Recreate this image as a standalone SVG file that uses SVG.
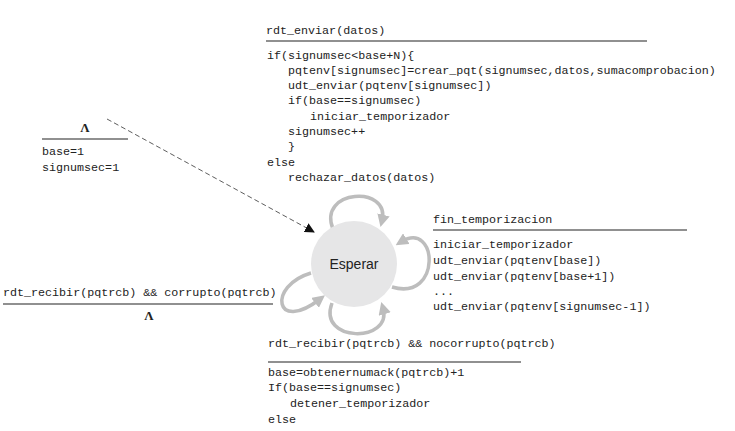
<svg xmlns="http://www.w3.org/2000/svg" width="735" height="431" viewBox="0 0 735 431">
<defs>
<style>
.t{font-family:"Liberation Mono","DejaVu Sans Mono",monospace;font-size:11.7px;fill:#222}
.lam{font-family:"Liberation Serif","DejaVu Serif",serif;font-size:13px;font-weight:bold;fill:#222;text-anchor:middle}
.rule{stroke:#222;stroke-width:1.2}
.loop{fill:none;stroke:#bdbdbd;stroke-width:3.5}
</style>
<marker id="ga" viewBox="0 0 10 10" refX="5" refY="5" markerWidth="3.6" markerHeight="3.6" orient="auto" markerUnits="strokeWidth">
<path d="M0,0 L10,5 L0,10 z" fill="#bdbdbd"/>
</marker>
<marker id="ba" viewBox="0 0 10 10" refX="9" refY="5" markerWidth="10" markerHeight="10" orient="auto" markerUnits="userSpaceOnUse">
<path d="M0,0 L10,5 L0,10 z" fill="#111"/>
</marker>
</defs>
<rect width="735" height="431" fill="#fff"/>

<g id="connectors">
<line x1="107" y1="119" x2="314" y2="232" stroke="#333" stroke-width="0.8" stroke-dasharray="5,3" marker-end="url(#ba)"/>
<path class="loop" d="M333,229 C317,189 391,185 382,221" marker-end="url(#ga)"/>
<path class="loop" d="M392,287 C442,302 438,219 401,242" marker-end="url(#ga)"/>
<path class="loop" d="M311,273 C267,286 275,334 320,299" marker-end="url(#ga)"/>
<path class="loop" d="M332,303 C317,343 393,343 383,308" marker-end="url(#ga)"/>
</g>

<g id="esperar">
<circle cx="354" cy="264" r="43" fill="#e6e6e7"/>
<text x="354" y="269" font-family="Liberation Sans, Arial, sans-serif" font-size="14" fill="#222" text-anchor="middle">Esperar</text>
</g>

<g id="init-label">
<text class="lam" x="85" y="132">Λ</text>
<line class="rule" x1="42" y1="139" x2="128" y2="139"/>
<text class="t" x="42" y="155">base=1</text>
<text class="t" x="42" y="171">signumsec=1</text>
</g>

<g id="enviar-label">
<text class="t" x="266" y="34">rdt_enviar(datos)</text>
<line class="rule" x1="266" y1="41" x2="647" y2="41"/>
<text class="t" x="267" y="59">if(signumsec&lt;base+N){</text>
<text class="t" x="288" y="74">pqtenv[signumsec]=crear_pqt(signumsec,datos,sumacomprobacion)</text>
<text class="t" x="288" y="89">udt_enviar(pqtenv[signumsec])</text>
<text class="t" x="288" y="104">if(base==signumsec)</text>
<text class="t" x="310" y="120">iniciar_temporizador</text>
<text class="t" x="288" y="135">signumsec++</text>
<text class="t" x="288" y="150">}</text>
<text class="t" x="267" y="166">else</text>
<text class="t" x="288" y="181">rechazar_datos(datos)</text>
</g>

<g id="timeout-label">
<text class="t" x="433" y="223">fin_temporizacion</text>
<line class="rule" x1="433" y1="230" x2="687" y2="230"/>
<text class="t" x="433" y="248">iniciar_temporizador</text>
<text class="t" x="433" y="264">udt_enviar(pqtenv[base])</text>
<text class="t" x="433" y="280">udt_enviar(pqtenv[base+1])</text>
<text class="t" x="433" y="295">...</text>
<text class="t" x="433" y="310">udt_enviar(pqtenv[signumsec-1])</text>
</g>

<g id="corrupt-label">
<text class="t" x="3" y="296">rdt_recibir(pqtrcb) &amp;&amp; corrupto(pqtrcb)</text>
<line class="rule" x1="3" y1="304" x2="273" y2="304"/>
<text class="lam" x="149" y="320">Λ</text>
</g>

<g id="ack-label">
<text class="t" x="268" y="347">rdt_recibir(pqtrcb) &amp;&amp; nocorrupto(pqtrcb)</text>
<line class="rule" x1="268" y1="362" x2="521" y2="362"/>
<text class="t" x="268" y="376">base=obtenernumack(pqtrcb)+1</text>
<text class="t" x="268" y="391">If(base==signumsec)</text>
<text class="t" x="290" y="407">detener_temporizador</text>
<text class="t" x="268" y="423">else</text>
</g>
</svg>
